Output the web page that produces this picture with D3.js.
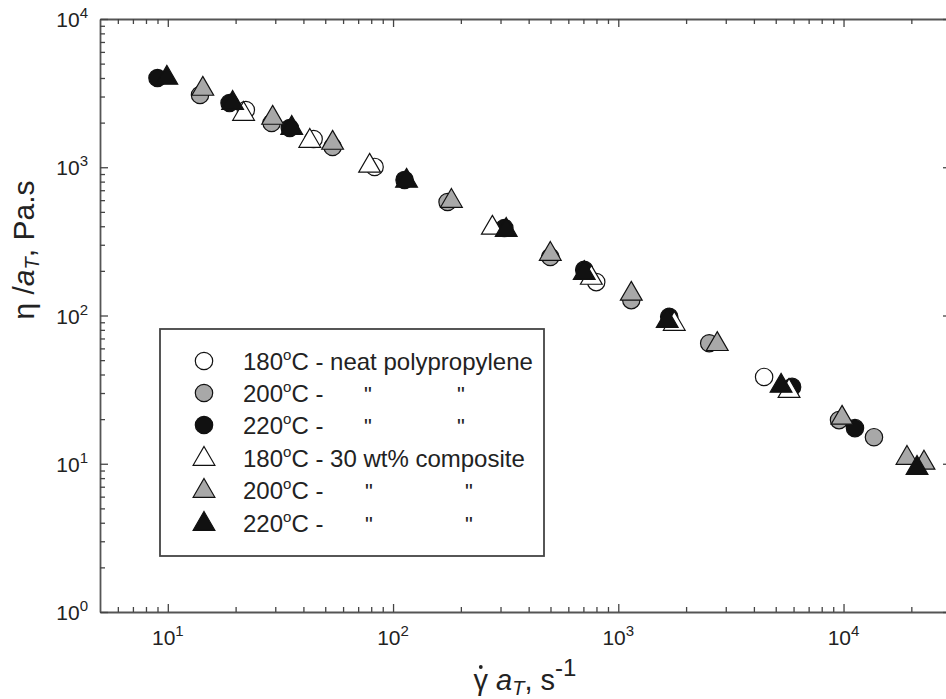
<!DOCTYPE html>
<html>
<head>
<meta charset="utf-8">
<script src="https://cdn.jsdelivr.net/npm/d3@7"></script>
<style>
  body { margin: 0; background: #fff; }
  svg { display: block; font-family: "Liberation Sans", Arial, sans-serif; }
</style>
</head>
<body>
<svg id="chart" width="946" height="699"></svg>
<script>
// shear rate * aT (1/s), eta/aT (Pa.s)
const neat180 = [[22.2, 2433], [44.4, 1551], [82.8, 1005], [798, 168], [4440, 38.5]];
const neat200 = [[13.9, 3072], [28.9, 1988], [53.9, 1371], [174.6, 583], [499, 248], [1142, 127], [2533, 65], [9550, 19.7], [13650, 15.1]];
const neat220 = [[9.0, 4000], [18.8, 2711], [34.8, 1840], [112.5, 821], [312, 389], [706, 203], [1683, 98], [5910, 33], [11240, 17.4]];
const comp180 = [[21.7, 2322], [42.7, 1527], [78.7, 1037], [276, 396], [759, 182], [1772, 89], [5730, 31.4]];
const comp200 = [[14.3, 3426], [29.2, 2183], [53.9, 1481], [181.6, 601], [499, 264], [1142, 142], [2750, 65], [9850, 20.7], [19130, 11.1], [22760, 10.3]];
const comp220 = [[9.9, 4064], [19.4, 2754], [35.5, 1868], [114.8, 821], [318, 383], [706, 196], [1649, 93], [5280, 34], [21200, 9.5]];

const xMajor = [10, 100, 1000, 10000];
const yMajor = [1, 10, 100, 1000, 10000];
const legendTemps = ["180", "200", "220", "180", "200", "220"];

const svg = d3.select("#chart");
const x = d3.scaleLog().domain([5, 30000]).range([100, 951]);
const y = d3.scaleLog().domain([1, 10000]).range([612, 19]);

const GRAY = "#a8a8a8";
const series = [
  { data: neat180, shape: "circle", fill: "#fff" },
  { data: neat200, shape: "circle", fill: GRAY },
  { data: neat220, shape: "circle", fill: "#111" },
  { data: comp180, shape: "triangle", fill: "#fff" },
  { data: comp200, shape: "triangle", fill: GRAY },
  { data: comp220, shape: "triangle", fill: "#111" },
];

// minor ticks 2..9 per decade
function minors(lo, hi) {
  const out = [];
  for (let e = Math.floor(Math.log10(lo)); e <= Math.ceil(Math.log10(hi)); e++) {
    for (let m = 2; m <= 9; m++) {
      const v = m * Math.pow(10, e);
      if (v > lo && v < hi) out.push(v);
    }
  }
  return out;
}
const xMinor = minors(5, 30000);
const yMinor = minors(1, 10000);

function drawAxis(axisFn, scale, transform, majors, minorVals) {
  const g = svg.append("g").attr("transform", transform);
  g.call(axisFn(scale).tickValues(majors).tickSize(-8).tickSizeOuter(0).tickFormat(""));
  const gm = svg.append("g").attr("transform", transform);
  gm.call(axisFn(scale).tickValues(minorVals).tickSize(-5).tickSizeOuter(0).tickFormat(""));
  gm.select(".domain").remove();
  [g, gm].forEach(s => {
    s.selectAll("line").attr("stroke", "#444").attr("stroke-width", 1.3);
    s.selectAll(".domain").attr("stroke", "#555").attr("stroke-width", 1.8);
  });
}

drawAxis(d3.axisBottom, x, "translate(0,612)", xMajor, xMinor);
drawAxis(d3.axisTop, x, "translate(0,19)", xMajor, xMinor);
drawAxis(d3.axisLeft, y, "translate(100,0)", yMajor, yMinor);
drawAxis(d3.axisRight, y, "translate(951,0)", yMajor, yMinor);

// tick labels 10^n
function powLabel(sel, v) {
  sel.append("tspan").text("10");
  sel.append("tspan").attr("font-size", 15).attr("dy", -9).text(Math.round(Math.log10(v)));
}
svg.append("g").selectAll("text").data(xMajor).join("text")
  .attr("x", d => x(d)).attr("y", 645)
  .attr("text-anchor", "middle").attr("font-size", 21).attr("fill", "#222")
  .each(function (d) { powLabel(d3.select(this), d); });
svg.append("g").selectAll("text").data(yMajor).join("text")
  .attr("x", 88).attr("y", d => y(d) + 8)
  .attr("text-anchor", "end").attr("font-size", 21).attr("fill", "#222")
  .each(function (d) { powLabel(d3.select(this), d); });

// axis titles
const xt = svg.append("text").attr("x", 525).attr("y", 690)
  .attr("text-anchor", "middle").attr("font-size", 29).attr("fill", "#222");
xt.append("tspan").text("\u03B3 ");
xt.append("tspan").attr("font-style", "italic").text("a");
xt.append("tspan").attr("font-style", "italic").attr("font-size", 20).attr("dy", 5).text("T");
xt.append("tspan").attr("dy", -5).text(", s");
xt.append("tspan").attr("font-size", 24).attr("dy", -14).text("-1");
// dot over gamma
const gx = xt.node().getExtentOfChar(0);
svg.append("circle").attr("cx", gx.x + gx.width / 2).attr("cy", 690 - 23)
  .attr("r", 1.9).attr("fill", "#222");

const yt = svg.append("text").attr("transform", "translate(34,250) rotate(-90)")
  .attr("text-anchor", "middle").attr("font-size", 30).attr("fill", "#222");
yt.append("tspan").text("\u03B7 /");
yt.append("tspan").attr("font-style", "italic").text("a");
yt.append("tspan").attr("font-style", "italic").attr("font-size", 20).attr("dy", 5).text("T");
yt.append("tspan").attr("dy", -5).text(", Pa.s");

// markers
const tri = d3.symbol().type(d3.symbolTriangle).size(205);
function marker(g, shape, fill) {
  if (shape === "circle") {
    g.append("circle").attr("r", 8.7);
  } else {
    g.append("path").attr("d", tri).attr("transform", "translate(0,1)");
  }
  g.selectAll("circle,path").attr("fill", fill).attr("stroke", "#111").attr("stroke-width", 1.2);
}

series.forEach(s => {
  svg.append("g").selectAll("g").data(s.data).join("g")
    .attr("transform", d => `translate(${x(d[0])},${y(d[1])})`)
    .each(function () { marker(d3.select(this), s.shape, s.fill); });
});

// legend
const lg = svg.append("g");
lg.append("rect").attr("x", 160).attr("y", 329).attr("width", 384).attr("height", 227)
  .attr("fill", "#fff").attr("stroke", "#444").attr("stroke-width", 1.8);
const rowY = [361, 393, 425, 458, 490, 523];
const restText = [
  [" - neat polypropylene"],
  [" -", 368, 461],
  [" -", 368, 461],
  [" - 30 wt% composite"],
  [" -", 369, 469],
  [" -", 369, 469],
];
series.forEach((s, i) => {
  const g = lg.append("g").attr("transform", `translate(204,${rowY[i]})`);
  marker(g, s.shape, s.fill);
  const t = lg.append("text").attr("x", 243).attr("y", rowY[i] + 9)
    .attr("font-size", 24).attr("fill", "#222");
  t.append("tspan").text(legendTemps[i]);
  t.append("tspan").attr("font-size", 15).attr("dy", -10).text("o");
  t.append("tspan").attr("dy", 10).text("C" + restText[i][0]);
  if (restText[i].length > 1) {
    [restText[i][1], restText[i][2]].forEach(px => {
      lg.append("text").attr("x", px).attr("y", rowY[i] + 9)
        .attr("font-size", 22).attr("fill", "#222").attr("text-anchor", "middle").text('"');
    });
  }
});
</script>
</body>
</html>
